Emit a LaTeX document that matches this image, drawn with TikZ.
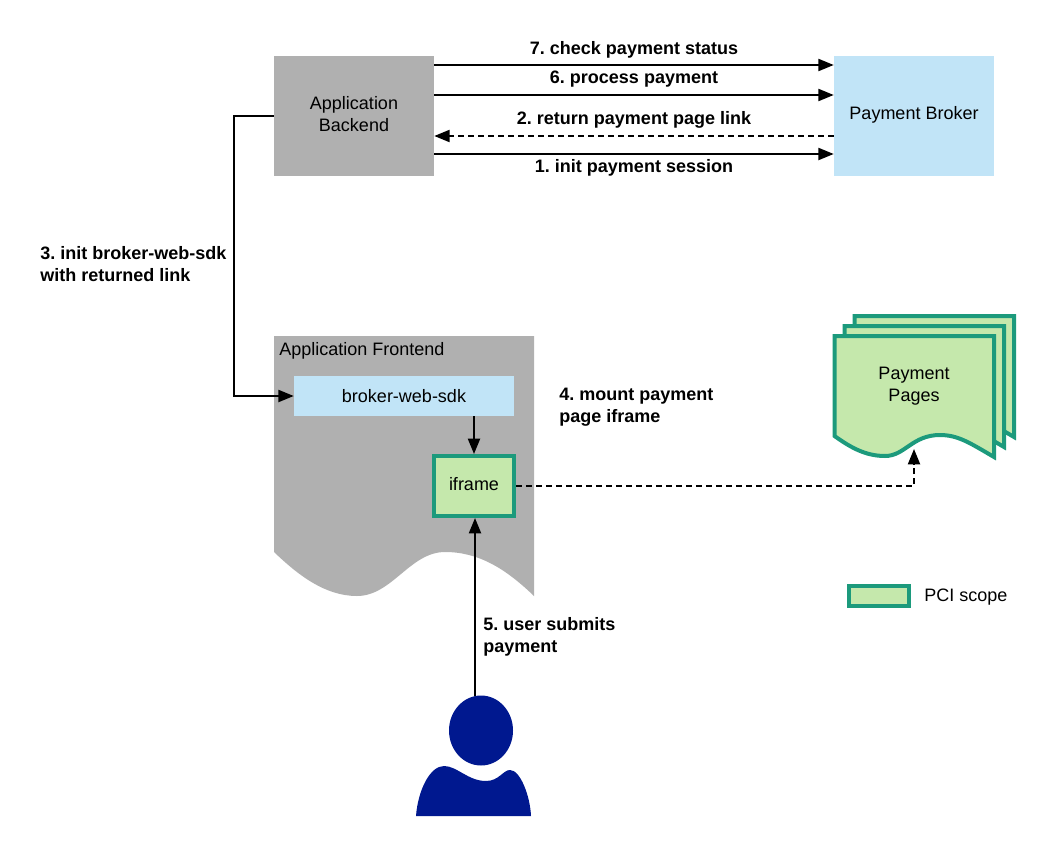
\documentclass[tikz,border=0pt]{standalone}
\usepackage{fontspec}
\setmainfont{Liberation Sans}
\usetikzlibrary{arrows.meta}
\definecolor{grayfill}{HTML}{B0B0B0}
\definecolor{bluefill}{HTML}{C1E4F7}
\definecolor{greenfill}{HTML}{C5E8AC}
\definecolor{greenline}{HTML}{1C9A7C}
\definecolor{navy}{HTML}{00188F}
\frenchspacing
\tikzset{
  plain/.style={font=\fontsize{13.5}{16.5}\selectfont,align=center,inner sep=0pt,text=black},
  lbl/.style={font=\fontsize{13.5}{16.5}\selectfont\bfseries,align=left,inner sep=0pt,text=black},
  grayrect/.style={fill=grayfill,draw=none,inner sep=0pt},
  bluerect/.style={fill=bluefill,draw=none,inner sep=0pt},
  pci/.style={fill=greenfill,draw=greenline,line width=3pt,inner sep=0pt},
  conn/.style={line width=1.5pt,-{Triangle[length=11.5pt,width=9pt]}},
  dconn/.style={conn,dash pattern=on 4.5pt off 3pt}
}
\begin{document}
\begin{tikzpicture}[x=0.75pt,y=-0.75pt]
\useasboundingbox (0,0) rectangle (1059,856);
\fill[white] (0,0) rectangle (1059,856);
\fill[grayfill] (274,336) -- (534,336) -- (534,596) .. controls (505,568) and (478,552) .. (445,552) .. controls (410,552) and (392,596) .. (357,596) .. controls (325,596) and (298,575) .. (274,552) -- cycle;
\foreach \dx/\dy in {20/-20,10/-10,0/0}{
\draw[fill=greenfill,draw=greenline,line width=3pt,miter limit=10,shift={(\dx,\dy)}] (834.5,336) -- (994,336) -- (994,457) .. controls (970,443) and (958,435) .. (940,435) .. controls (912,435) and (905,456) .. (885,456) .. controls (865,456) and (850,447) .. (834.5,436) -- cycle;
}
\node[plain] (pages) at (914,386) {Payment\\Pages};
\coordinate (pagesbottom) at (914,449);
\node[grayrect,minimum width=120pt,minimum height=90pt] (backend) at (354,116) {};
\node[plain] at (354,114) {Application\\Backend};
\node[bluerect,minimum width=120pt,minimum height=90pt] (broker) at (914,116) {};
\node[plain] at (914,115) {Payment Broker};
\node[bluerect,minimum width=165pt,minimum height=30pt] (sdk) at (404,396) {};
\node[plain] at (404,396) {broker-web-sdk};
\node[pci,minimum width=60pt,minimum height=45pt] (iframe) at (474,486) {};
\node[plain] at (474,484) {iframe};
\node[plain,anchor=west] (front) at (279,351) {Application Frontend};
\fill[navy] (481,730.5) ellipse [x radius=32, y radius=35];
\fill[navy] (416,816) .. controls (418,790) and (430,766) .. (444,766) .. controls (457,766) and (468,781) .. (486,781) .. controls (499,781) and (503,770) .. (510,770) .. controls (520,770) and (530,795) .. (531,816) -- cycle;
\coordinate (persontop) at (475,696);
\node[pci,minimum width=45pt,minimum height=15pt] (legend) at (879,596) {};
\node[plain,anchor=west] (legendtext) at (924,597) {PCI scope};
\coordinate (bk7) at (backend.east |- 0,65);
\coordinate (bk6) at (backend.east |- 0,95);
\coordinate (bk2) at (backend.east |- 0,136);
\coordinate (bk1) at (backend.east |- 0,154);
\coordinate (br7) at (broker.west |- 0,65);
\coordinate (br6) at (broker.west |- 0,95);
\coordinate (br2) at (broker.west |- 0,136);
\coordinate (br1) at (broker.west |- 0,154);
\draw[conn] (bk7) -- (br7);
\draw[conn] (bk6) -- (br6);
\draw[dconn] (br2) -- (bk2);
\draw[conn] (bk1) -- (br1);
\draw[conn] (backend.west) -- (234,116) -- (234,396) -- (sdk.west);
\draw[conn] (sdk.south -| iframe.north) -- (iframe.north);
\draw[dconn] (iframe.east) -- (914,486) -- (pagesbottom);
\draw[conn] (persontop) -- (persontop |- iframe.south);
\node[lbl] (l7) at (634,50) {7. check payment status};
\node[lbl] (l6) at (634,79) {6. process payment};
\node[lbl] (l2) at (634,120) {2. return payment page link};
\node[lbl] (l1) at (634,168) {1. init payment session};
\node[lbl,anchor=west] (l3) at (40,264) {3. init broker-web-sdk\\with returned link};
\node[lbl,anchor=west] (l4) at (559,407) {4. mount payment\\page iframe};
\node[lbl,anchor=west] (l5) at (483,637) {5. user submits\\payment};
\end{tikzpicture}
\end{document}
